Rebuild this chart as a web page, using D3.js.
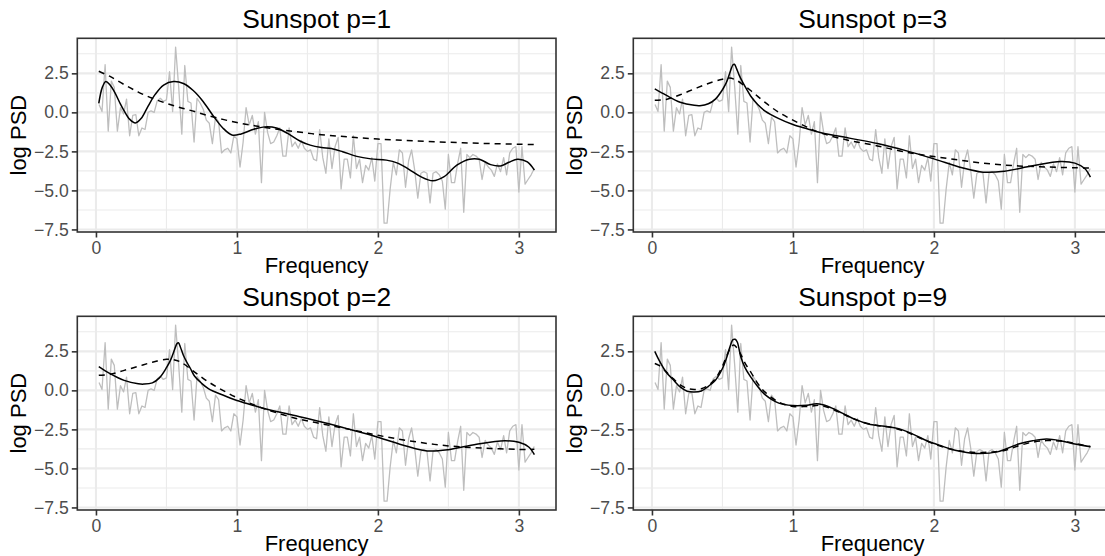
<!DOCTYPE html>
<html><head><meta charset="utf-8">
<script src="https://cdn.jsdelivr.net/npm/d3@7"></script>
<style>
body{margin:0;background:#fff}
svg{display:block;font-family:"Liberation Sans",Arial,Helvetica,sans-serif}
</style>
</head><body>
<svg id="chart" width="1105" height="556"></svg>
<script>
// ---- data ----
const freq = [0.022,0.043,0.065,0.087,0.109,0.130,0.152,0.174,0.196,0.217,0.239,0.261,0.283,0.304,0.326,0.348,0.370,0.391,0.413,0.435,0.457,0.478,0.500,0.522,0.544,0.565,0.587,0.609,0.630,0.652,0.674,0.696,0.717,0.739,0.761,0.783,0.804,0.826,0.848,0.870,0.891,0.913,0.935,0.957,0.978,1.000,1.022,1.044,1.065,1.087,1.109,1.131,1.152,1.174,1.196,1.218,1.239,1.261,1.283,1.304,1.326,1.348,1.370,1.391,1.413,1.435,1.457,1.478,1.500,1.522,1.544,1.565,1.587,1.609,1.631,1.652,1.674,1.696,1.718,1.739,1.761,1.783,1.805,1.826,1.848,1.870,1.891,1.913,1.935,1.957,1.978,2.000,2.022,2.044,2.065,2.087,2.109,2.131,2.152,2.174,2.196,2.218,2.239,2.261,2.283,2.305,2.326,2.348,2.370,2.391,2.413,2.435,2.457,2.478,2.500,2.522,2.544,2.565,2.587,2.609,2.631,2.652,2.674,2.696,2.718,2.739,2.761,2.783,2.805,2.826,2.848,2.870,2.892,2.913,2.935,2.957,2.979,3.000,3.022,3.044,3.065,3.087,3.109];
const logPSD = [0.5,0.05,3.05,-1.2,2.0,1.6,-1.2,0.3,-0.1,0.85,-1.5,-0.2,-0.15,-1.5,-1.0,-1.1,0.0,0.1,0.0,0.75,0.9,0.7,0.8,2.6,0.05,4.18,1.6,-1.4,3.0,0.7,0.6,-1.9,0.9,0.6,0.2,-0.5,-0.7,-2.0,-0.3,-0.6,-2.6,-2.4,-2.3,-2.6,-1.5,-1.7,-3.5,-1.9,0.3,-0.8,-0.2,-1.4,-0.6,-4.5,0.0,-1.3,-2.0,-1.9,-1.5,-1.0,-2.8,-2.8,-1.0,-2.2,-1.9,-2.3,-1.8,-2.3,-2.5,-2.4,-3.0,-3.1,-1.1,-2.9,-3.9,-1.7,-3.6,-2.2,-1.6,-4.9,-3.0,-3.0,-4.2,-1.5,-3.6,-3.0,-4.5,-3.4,-3.7,-2.9,-4.4,-2.0,-2.0,-7.1,-7.1,-4.9,-3.2,-4.0,-2.4,-2.6,-4.8,-3.1,-2.4,-3.7,-5.5,-3.9,-3.8,-3.9,-5.8,-3.9,-3.8,-4.0,-4.4,-6.2,-2.7,-4.5,-4.5,-3.3,-2.3,-6.4,-2.7,-2.9,-2.7,-2.8,-3.0,-4.3,-3.2,-3.5,-3.7,-4.1,-3.3,-3.8,-2.9,-4.0,-2.6,-2.3,-2.2,-5.1,-2.2,-4.6,-4.3,-4.0,-3.6];

const p1Solid = [[0.02,0.57],[0.045,1.6],[0.07,1.98],[0.1,1.75],[0.135,1.25],[0.17,0.6],[0.2,0.1],[0.24,-0.45],[0.28,-0.68],[0.32,-0.4],[0.37,0.4],[0.42,1.15],[0.48,1.75],[0.55,1.97],[0.62,1.85],[0.69,1.4],[0.76,0.7],[0.83,-0.2],[0.9,-1.0],[0.965,-1.45],[1.03,-1.38],[1.12,-1.08],[1.2,-0.93],[1.28,-1.0],[1.36,-1.35],[1.45,-1.85],[1.52,-2.1],[1.6,-2.25],[1.67,-2.32],[1.75,-2.52],[1.85,-2.82],[1.95,-2.98],[2.06,-3.06],[2.14,-3.25],[2.22,-3.65],[2.3,-4.1],[2.39,-4.38],[2.47,-4.12],[2.56,-3.38],[2.65,-3.0],[2.72,-3.0],[2.8,-3.35],[2.87,-3.43],[2.93,-3.2],[2.99,-3.0],[3.06,-3.17],[3.11,-3.7]];
const p1Dashed = [[0.02,2.63],[0.1,2.3],[0.2,1.78],[0.3,1.3],[0.4,0.9],[0.5,0.58],[0.6,0.3],[0.7,0.05],[0.8,-0.22],[0.9,-0.45],[1.0,-0.65],[1.1,-0.82],[1.2,-0.97],[1.3,-1.1],[1.4,-1.22],[1.6,-1.43],[1.8,-1.58],[2.0,-1.71],[2.2,-1.8],[2.4,-1.88],[2.6,-1.95],[2.8,-2.0],[3.0,-2.04],[3.11,-2.06]];

const p3Solid = [[0.02,1.5],[0.1,1.1],[0.2,0.65],[0.3,0.45],[0.34,0.43],[0.4,0.55],[0.45,0.85],[0.5,1.45],[0.53,1.95],[0.555,2.6],[0.575,3.05],[0.585,3.08],[0.6,2.8],[0.62,2.35],[0.645,1.9],[0.67,1.5],[0.7,1.05],[0.75,0.5],[0.8,0.1],[0.9,-0.4],[1.0,-0.78],[1.1,-1.05],[1.2,-1.3],[1.4,-1.65],[1.6,-2.0],[1.8,-2.45],[2.0,-2.98],[2.2,-3.55],[2.35,-3.83],[2.5,-3.77],[2.7,-3.42],[2.9,-3.15],[3.0,-3.25],[3.07,-3.6],[3.11,-4.15]];
const p3Dashed = [[0.02,0.77],[0.1,0.83],[0.2,1.13],[0.3,1.5],[0.4,1.85],[0.5,2.12],[0.55,2.2],[0.6,2.05],[0.7,1.4],[0.8,0.65],[0.9,0.0],[1.0,-0.5],[1.1,-0.95],[1.2,-1.33],[1.4,-1.8],[1.6,-2.15],[1.8,-2.55],[2.0,-2.83],[2.2,-3.08],[2.4,-3.3],[2.6,-3.43],[2.8,-3.5],[3.0,-3.55],[3.11,-3.57]];

const p2Solid = [[0.02,1.52],[0.1,1.07],[0.2,0.64],[0.3,0.42],[0.34,0.4],[0.4,0.48],[0.45,0.8],[0.5,1.45],[0.53,1.95],[0.555,2.55],[0.575,3.0],[0.585,3.05],[0.6,2.75],[0.62,2.25],[0.645,1.8],[0.67,1.4],[0.7,0.9],[0.75,0.45],[0.8,0.1],[0.9,-0.3],[1.0,-0.65],[1.1,-0.92],[1.2,-1.18],[1.4,-1.6],[1.6,-2.03],[1.8,-2.5],[2.0,-3.0],[2.2,-3.57],[2.35,-3.88],[2.5,-3.8],[2.7,-3.45],[2.9,-3.23],[3.0,-3.33],[3.07,-3.63],[3.11,-4.12]];
const p2Dashed = [[0.02,0.97],[0.1,1.03],[0.2,1.28],[0.3,1.54],[0.4,1.8],[0.5,1.99],[0.55,1.97],[0.6,1.82],[0.7,1.17],[0.8,0.53],[0.9,0.0],[1.0,-0.47],[1.1,-0.85],[1.2,-1.2],[1.4,-1.75],[1.6,-2.14],[1.8,-2.5],[2.0,-2.88],[2.2,-3.2],[2.4,-3.46],[2.6,-3.63],[2.8,-3.72],[3.0,-3.78],[3.11,-3.78]];

const p9Solid = [[0.02,2.5],[0.05,1.94],[0.1,1.18],[0.15,0.69],[0.2,0.22],[0.25,-0.06],[0.3,-0.11],[0.35,-0.04],[0.4,0.26],[0.45,0.65],[0.5,1.4],[0.53,2.1],[0.55,2.69],[0.575,3.25],[0.59,3.27],[0.605,3.1],[0.63,2.15],[0.66,1.46],[0.7,0.86],[0.75,0.25],[0.8,-0.26],[0.9,-0.82],[1.0,-0.97],[1.1,-0.95],[1.17,-0.86],[1.25,-1.03],[1.35,-1.46],[1.45,-1.89],[1.55,-2.19],[1.65,-2.3],[1.75,-2.45],[1.85,-2.8],[1.95,-3.23],[2.05,-3.55],[2.15,-3.83],[2.3,-4.04],[2.45,-3.94],[2.6,-3.44],[2.7,-3.23],[2.8,-3.12],[2.9,-3.23],[3.0,-3.44],[3.11,-3.61]];
const p9Dashed = [[0.02,1.72],[0.05,1.6],[0.1,1.2],[0.15,0.75],[0.2,0.35],[0.25,0.12],[0.3,0.06],[0.35,0.1],[0.4,0.32],[0.45,0.75],[0.5,1.55],[0.53,2.2],[0.56,2.75],[0.58,2.9],[0.6,2.75],[0.63,2.3],[0.66,1.75],[0.7,1.18],[0.75,0.45],[0.8,-0.1],[0.9,-0.75],[1.0,-1.03],[1.1,-1.03],[1.2,-0.97],[1.3,-1.29],[1.4,-1.7],[1.5,-2.05],[1.6,-2.25],[1.7,-2.38],[1.8,-2.65],[1.9,-3.05],[2.0,-3.42],[2.1,-3.72],[2.2,-3.9],[2.3,-3.98],[2.4,-3.95],[2.5,-3.85],[2.6,-3.55],[2.7,-3.32],[2.8,-3.22],[2.9,-3.25],[3.0,-3.4],[3.11,-3.6]];

const titles = ["Sunspot p=1","Sunspot p=3","Sunspot p=2","Sunspot p=9"];
const xTickVals = [0,1,2,3];
const xTickLabels = ["0","1","2","3"];
const xMinorVals = [0.5,1.5,2.5];
const yTickVals = [-7.5,-5,-2.5,0,2.5];
const yTickLabels = ["\u22127.5","\u22125.0","\u22122.5","0.0","2.5"];
const yMinorVals = [-6.25,-3.75,-1.25,1.25,3.75];

// ---- layout ----
const cellW = 556, cellH = 278;
const pL = 77.3, pR = 556, pT = 38.3, pB = 232;

const panels = [
  {title:titles[0], solid:p1Solid, dashed:p1Dashed, col:0, row:0},
  {title:titles[1], solid:p3Solid, dashed:p3Dashed, col:1, row:0},
  {title:titles[2], solid:p2Solid, dashed:p2Dashed, col:0, row:1},
  {title:titles[3], solid:p9Solid, dashed:p9Dashed, col:1, row:1}
];

const svg = d3.select("#chart");
svg.append("rect").attr("width",1105).attr("height",556).attr("fill","#fff");

const gray = freq.map((f,i)=>[f, logPSD[i]]);

panels.forEach(p=>{
  const all = gray.concat(p.solid, p.dashed);
  const xe = d3.extent(gray, d=>d[0]);
  const ye = d3.extent(all, d=>d[1]);
  const xp = (xe[1]-xe[0])*0.05, yp = (ye[1]-ye[0])*0.05;
  const x = d3.scaleLinear().domain([xe[0]-xp, xe[1]+xp]).range([pL, pR]);
  const y = d3.scaleLinear().domain([ye[0]-yp, ye[1]+yp]).range([pB, pT]);

  const g = svg.append("g").attr("transform", `translate(${p.col*cellW},${p.row*cellH})`);

  // grid
  g.selectAll(".ymin").data(yMinorVals).enter().append("line")
    .attr("x1",pL).attr("x2",pR).attr("y1",d=>y(d)).attr("y2",d=>y(d))
    .attr("stroke","#EBEBEB").attr("stroke-width",1.07);
  g.selectAll(".xmin").data(xMinorVals).enter().append("line")
    .attr("y1",pT).attr("y2",pB).attr("x1",d=>x(d)).attr("x2",d=>x(d))
    .attr("stroke","#EBEBEB").attr("stroke-width",1.07);
  g.selectAll(".ymaj").data(yTickVals).enter().append("line")
    .attr("x1",pL).attr("x2",pR).attr("y1",d=>y(d)).attr("y2",d=>y(d))
    .attr("stroke","#EBEBEB").attr("stroke-width",2.1);
  g.selectAll(".xmaj").data(xTickVals).enter().append("line")
    .attr("y1",pT).attr("y2",pB).attr("x1",d=>x(d)).attr("x2",d=>x(d))
    .attr("stroke","#EBEBEB").attr("stroke-width",2.1);

  const line = d3.line().x(d=>x(d[0])).y(d=>y(d[1]));
  const smooth = d3.line().x(d=>x(d[0])).y(d=>y(d[1])).curve(d3.curveCatmullRom.alpha(0.5));

  g.append("path").attr("d", line(gray)).attr("fill","none")
    .attr("stroke","#BEBEBE").attr("stroke-width",1.3).attr("stroke-linejoin","round");
  g.append("path").attr("d", smooth(p.dashed)).attr("fill","none")
    .attr("stroke","#000").attr("stroke-width",1.5).attr("stroke-dasharray","6,5");
  g.append("path").attr("d", smooth(p.solid)).attr("fill","none")
    .attr("stroke","#000").attr("stroke-width",1.5);

  // border
  g.append("rect").attr("x",pL).attr("y",pT).attr("width",pR-pL).attr("height",pB-pT)
    .attr("fill","none").attr("stroke","#333333").attr("stroke-width",1.6);

  // axes
  const xAxis = d3.axisBottom(x).tickValues(xTickVals).tickFormat((d,i)=>xTickLabels[i]).tickSize(5.5).tickPadding(4);
  const ax = g.append("g").attr("transform",`translate(0,${pB})`).call(xAxis);
  ax.select(".domain").remove();
  ax.selectAll("line").attr("stroke","#333333").attr("stroke-width",1.6);
  ax.selectAll("text").attr("fill","#4D4D4D").style("font-size","17.6px").attr("font-family","Liberation Sans, Arial, sans-serif");

  const yAxis = d3.axisLeft(y).tickValues(yTickVals).tickFormat((d,i)=>yTickLabels[i]).tickSize(5.5).tickPadding(3);
  const ay = g.append("g").attr("transform",`translate(${pL},0)`).call(yAxis);
  ay.select(".domain").remove();
  ay.selectAll("line").attr("stroke","#333333").attr("stroke-width",1.6);
  ay.selectAll("text").attr("fill","#4D4D4D").style("font-size","17.6px").attr("font-family","Liberation Sans, Arial, sans-serif");

  // titles
  g.append("text").attr("x",(pL+pR)/2).attr("y",28).attr("text-anchor","middle")
    .style("font-size","26.4px").attr("fill","#000").text(p.title);
  g.append("text").attr("x",(pL+pR)/2).attr("y",273).attr("text-anchor","middle")
    .style("font-size","22px").attr("fill","#000").text("Frequency");
  g.append("text").attr("transform",`translate(25.5,${(pT+pB)/2}) rotate(-90)`).attr("text-anchor","middle")
    .style("font-size","22px").attr("fill","#000").text("log PSD");
});
</script>
</body></html>
